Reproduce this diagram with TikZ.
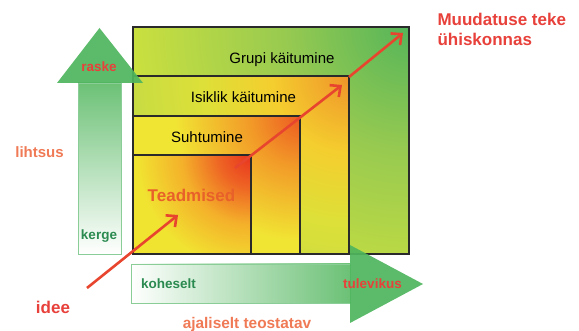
\documentclass[tikz,border=0pt]{standalone}
\usepackage{fontspec}
\setmainfont{Liberation Sans}
\usetikzlibrary{arrows.meta}
\definecolor{tdA}{HTML}{E8321E}
\definecolor{tdB}{HTML}{EE6424}
\definecolor{tdC}{HTML}{F4B02A}
\definecolor{tdD}{HTML}{F1E431}
\definecolor{suA}{HTML}{EC5A22}
\definecolor{suB}{HTML}{F29A28}
\definecolor{suC}{HTML}{F1E533}
\definecolor{isA}{HTML}{F0942A}
\definecolor{isB}{HTML}{F4CE2E}
\definecolor{isC}{HTML}{DDE038}
\definecolor{isD}{HTML}{C8DC42}
\definecolor{grA}{HTML}{55B55A}
\definecolor{grB}{HTML}{98CA50}
\definecolor{grC}{HTML}{CDE13E}
\definecolor{arrHead}{HTML}{4FB65E}
\definecolor{arrTop}{HTML}{6CC176}
\definecolor{arrMid}{HTML}{C4E5C7}
\definecolor{arrLine}{HTML}{8ACD96}
\definecolor{txtGreen}{HTML}{2A8A50}
\definecolor{txtRed}{HTML}{E8403A}
\definecolor{txtOrange}{HTML}{F07A55}
\definecolor{txtTead}{HTML}{E8602A}
\definecolor{arrRed}{HTML}{E8452E}
\definecolor{boxLine}{HTML}{2A2A2A}
\pgfdeclareradialshading{shTead}{\pgfpoint{0bp}{0bp}}{color(0bp)=(tdA); color(7bp)=(tdB); color(15bp)=(tdC); color(25bp)=(tdD); color(50bp)=(tdD)}
\pgfdeclareradialshading{shSuht}{\pgfpoint{0bp}{0bp}}{color(0bp)=(suA); color(10bp)=(suB); color(25bp)=(suC); color(50bp)=(suC)}
\pgfdeclareradialshading{shIsik}{\pgfpoint{0bp}{0bp}}{color(0bp)=(isA); color(9bp)=(isB); color(17bp)=(isC); color(25bp)=(isD); color(50bp)=(isD)}
\pgfdeclareradialshading{shGrup}{\pgfpoint{0bp}{0bp}}{color(0bp)=(grA); color(11bp)=(grB); color(25bp)=(grC); color(50bp)=(grC)}
\begin{document}
\begin{tikzpicture}[x=1pt,y=-1pt,
  boxline/.style={draw=boxLine,line width=1.4pt},
  boxtext/.style={anchor=base,text=black,font=\fontsize{15}{18}\selectfont},
  boldlbl/.style={anchor=base,font=\bfseries\fontsize{13.5}{16}\selectfont},
  biglbl/.style={anchor=base,font=\bfseries\fontsize{17}{20}\selectfont},
  redarrow/.style={draw=arrRed,line width=2.6pt,-{Straight Barb[length=8pt,width=15pt,line width=2.6pt]}}]
\useasboundingbox[fill=white] (0,0) rectangle (579,331);
% boxes with shadings
\begin{scope}
  \clip (133,27) rectangle (409,254);
  \fill[grC] (133,27) rectangle (409,254);
  \shade[shading=shGrup] (409,27) circle (285pt);
\end{scope}
\begin{scope}
  \clip (133,76) rectangle (349,254);
  \fill[isD] (133,76) rectangle (349,254);
  \shade[shading=shIsik] (349,76) circle (215pt);
\end{scope}
\begin{scope}
  \clip (133,116) rectangle (300,254);
  \fill[suC] (133,116) rectangle (300,254);
  \shade[shading=shSuht] (300,116) circle (125pt);
\end{scope}
\begin{scope}
  \clip (133,155) rectangle (251,254);
  \fill[tdD] (133,155) rectangle (251,254);
  \shade[shading=shTead] (251,155) circle (115pt);
\end{scope}
\draw[boxline] (133,27) rectangle (409,254);
\draw[boxline] (133,254) |- (349,76) -- (349,254);
\draw[boxline] (133,116) -| (300,254);
\draw[boxline] (133,155) -| (251,254);
\draw[boxline] (133,254) -- (409,254);
% box labels
\node[boxtext] (grupi) at (282,64) {Grupi käitumine};
\node[boxtext] (isiklik) at (243.5,103) {Isiklik käitumine};
\node[boxtext] (suht) at (207,142.5) {Suhtumine};
\node[biglbl,text=txtTead] (tead) at (191.5,201.5) {Teadmised};
% vertical arrow
\shade[top color=arrTop,middle color=arrMid,bottom color=white,draw=arrLine,line width=0.9pt] (78,83) rectangle (121,254);
\fill[arrHead,opacity=0.92] (57,83) -- (99.5,28) -- (143,83) -- cycle;
\node[boldlbl,text=txtRed] (raske) at (99,71.5) {raske};
\node[boldlbl,text=txtGreen] (kerge) at (99,239.5) {kerge};
% horizontal arrow
\shade[left color=white,middle color=arrMid,right color=arrTop,draw=arrLine,line width=0.9pt] (131,264) rectangle (350,303);
\fill[arrHead,opacity=0.92] (350,245) -- (423,284) -- (350,323) -- cycle;
\node[boldlbl,text=txtGreen] (kohe) at (168.5,289) {koheselt};
\node[boldlbl,text=txtRed] (tulev) at (372.5,289) {tulevikus};
% red arrows
\coordinate (a0) at (87,288);
\coordinate (a1) at (178,215);
\coordinate (b0) at (235,168);
\coordinate (b1) at (342,85);
\coordinate (c0) at (349,77);
\coordinate (c1) at (403,33);
\draw[redarrow] (a0) -- (a1);
\draw[redarrow] (b0) -- (b1);
\draw[redarrow] (c0) -- (c1);
% other labels
\node[biglbl,text=txtRed,anchor=base west] (muud) at (434,26) {Muudatuse teke};
\node[biglbl,text=txtRed,anchor=base west] (yhis) at (434,46) {ühiskonnas};
\node[anchor=base,font=\bfseries\fontsize{15}{18}\selectfont,text=txtOrange] (liht) at (39.5,158) {lihtsus};
\node[biglbl,text=txtRed] (idee) at (53,314) {idee};
\node[anchor=base,font=\bfseries\fontsize{15.4}{18}\selectfont,text=txtOrange] (ajal) at (247,329) {ajaliselt teostatav};
\end{tikzpicture}
\end{document}
